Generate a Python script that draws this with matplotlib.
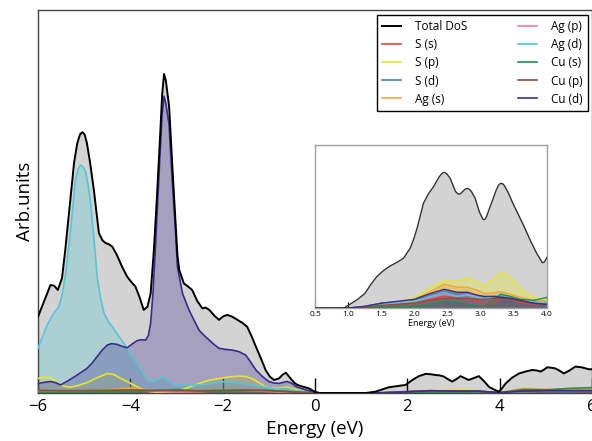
import matplotlib
matplotlib.use("Agg")
import matplotlib.pyplot as plt
from matplotlib.patches import ConnectionPatch

plt.rcParams['font.family'] = ['Open Sans', 'DejaVu Sans']

# ---------------- main panel data (energy in eV, DoS in arb. units 0-100) ----------------
total_E = [-6.0, -5.85, -5.73, -5.65, -5.57, -5.48, -5.41, -5.30, -5.22, -5.15, -5.09, -5.04, -4.99,
           -4.94, -4.87, -4.79, -4.68, -4.60, -4.54, -4.46, -4.39, -4.29, -4.18, -4.07, -3.98, -3.89,
           -3.80, -3.71, -3.63, -3.56, -3.49, -3.42, -3.36, -3.31, -3.27, -3.23, -3.16, -3.08, -2.98,
           -2.94, -2.84, -2.75, -2.66, -2.55, -2.44, -2.37, -2.29, -2.18, -2.08, -1.99, -1.90, -1.79,
           -1.68, -1.57, -1.47, -1.38, -1.28, -1.17, -1.07, -0.98, -0.89, -0.78, -0.70, -0.63, -0.53,
           -0.45, -0.38, -0.25, -0.13, 0.0, 0.1, 0.5, 1.1, 1.31, 1.6, 1.96, 2.11, 2.25, 2.40, 2.5,
           2.61, 2.70, 2.79, 2.88, 2.97, 3.06, 3.15, 3.24, 3.33, 3.44, 3.55, 3.66, 3.77, 3.88, 3.98,
           4.05, 4.13, 4.27, 4.42, 4.56, 4.70, 4.80, 4.89, 4.96, 5.03, 5.12, 5.21, 5.30, 5.39, 5.50,
           5.64, 5.78, 5.93, 6.0]
total_v = [19.9, 24.5, 28.2, 28.0, 26.9, 30.0, 37.3, 50.4, 60.0, 65.2, 67.5, 68.1, 67.5,
           65.2, 60.0, 53.0, 41.7, 39.8, 39.2, 38.8, 38.2, 36.0, 33.0, 30.4, 29.0, 27.8,
           25.0, 21.7, 22.5, 26.0, 37.3, 52.0, 66.0, 78.0, 83.3, 81.5, 74.8, 57.0, 36.0,
           32.1, 28.6, 27.8, 26.9, 24.0, 22.1, 22.3, 21.7, 20.2, 19.1, 20.0, 20.4, 19.9,
           19.1, 18.3, 17.3, 15.0, 12.1, 9.0, 6.0, 4.3, 3.4, 3.8, 4.8, 5.3, 3.8,
           2.7, 2.1, 1.6, 1.2, 0.3, 0.0, 0.0, 0.0, 0.35, 1.5, 2.1, 3.4, 4.4, 5.0, 4.9,
           4.7, 4.6, 4.3, 3.6, 3.0, 3.6, 4.4, 3.9, 3.4, 3.9, 4.4, 3.1, 1.6, 0.9, 0.35,
           1.2, 2.5, 4.0, 5.1, 5.6, 6.0, 5.9, 5.6, 6.1, 6.7, 6.6, 6.4, 5.8, 5.1, 5.8,
           6.9, 6.7, 6.2, 6.2]

agd_E = [-6.0, -5.80, -5.66, -5.55, -5.48, -5.41, -5.30, -5.19, -5.13, -5.08, -5.02, -4.97, -4.91,
         -4.86, -4.76, -4.72, -4.64, -4.57, -4.48, -4.39, -4.26, -4.14, -4.0, -3.85, -3.74, -3.64,
         -3.52, -3.40, -3.30, -3.20, -3.09, -2.94, -2.75, -2.51, -2.2, -1.93, -1.65, -1.36, -1.1,
         -0.85, -0.63, -0.4, -0.2, 0.0, 0.1, 1.2, 2.0, 2.5, 3.0, 3.5, 4.0, 4.5, 5.0, 5.5, 6.0]
agd_v = [11.7, 17.8, 20.8, 22.5, 25.5, 30.4, 41.7, 55.6, 58.5, 59.5, 59.0, 57.8, 54.0,
         49.5, 36.5, 30.4, 24.5, 20.8, 18.7, 17.3, 15.0, 13.0, 10.3, 7.8, 5.5, 3.4,
         3.0, 3.6, 4.2, 3.4, 2.3, 2.1, 2.0, 2.1, 2.6, 3.0, 2.6, 2.1, 1.6,
         1.0, 1.2, 0.6, 0.3, 0.1, 0.0, 0.0, 0.3, 0.5, 0.4, 0.5, 0.1, 0.5, 0.6, 0.5, 0.6]

cud_E = [-6.0, -5.85, -5.73, -5.62, -5.51, -5.35, -5.15, -4.94, -4.83, -4.72, -4.61, -4.50, -4.40,
         -4.29, -4.18, -4.07, -3.96, -3.85, -3.76, -3.67, -3.61, -3.56, -3.51, -3.46, -3.40, -3.35,
         -3.31, -3.27, -3.23, -3.16, -3.09, -3.02, -2.98, -2.87, -2.73, -2.62, -2.51, -2.40, -2.29,
         -2.18, -2.08, -1.95, -1.79, -1.65, -1.50, -1.40, -1.28, -1.14, -1.0, -0.89, -0.78, -0.68,
         -0.6, -0.5, -0.4, -0.2, 0.0, 0.1, 1.2, 2.0, 2.5, 3.0, 3.5, 4.0, 4.5, 5.0, 5.5, 6.0]
cud_v = [2.5, 2.8, 3.0, 2.7, 2.1, 3.2, 4.7, 6.4, 7.8, 9.5, 11.2, 12.5, 12.9,
         12.7, 12.2, 11.8, 12.8, 13.7, 13.9, 13.8, 15.0, 18.2, 26.0, 37.3, 52.0, 64.0,
         73.0, 77.5, 75.5, 70.0, 55.0, 42.0, 33.0, 26.0, 21.7, 19.0, 16.4, 15.0, 13.8,
         12.6, 11.7, 11.4, 11.2, 10.8, 9.9, 8.2, 6.0, 4.3, 3.0, 2.6, 2.5, 2.8,
         3.0, 2.5, 1.6, 0.8, 0.2, 0.0, 0.0, 0.3, 0.6, 0.5, 0.5, 0.1, 0.5, 0.6, 0.6, 0.6]

sp_E = [-6.0, -5.85, -5.73, -5.62, -5.51, -5.40, -5.30, -5.12, -4.94, -4.72, -4.50, -4.35, -4.21,
        -4.07, -3.93, -3.78, -3.64, -3.45, -3.2, -2.95, -2.75, -2.51, -2.30, -2.08, -1.85, -1.65,
        -1.50, -1.37, -1.20, -1.07, -0.95, -0.8, -0.7, -0.6, -0.5, -0.4, -0.2, 0.0, 0.1, 1.2,
        2.0, 2.4, 2.8, 3.3, 3.7, 4.0, 4.3, 5.0, 6.0]
sp_v = [3.8, 4.1, 4.0, 3.0, 2.1, 1.7, 1.5, 2.0, 2.7, 4.0, 5.1, 4.8, 3.8,
        3.0, 2.1, 1.2, 0.5, 0.2, 0.2, 0.6, 1.4, 2.5, 3.3, 3.8, 4.2, 4.4,
        4.3, 3.8, 2.6, 1.6, 1.3, 1.2, 1.4, 1.6, 1.2, 0.9, 0.4, 0.1, 0.0, 0.0,
        0.3, 0.6, 0.7, 0.9, 0.4, 0.1, 0.4, 0.5, 0.5]

minor_E = [-6, -5.5, -5, -4.5, -4, -3.5, -3, -2.5, -2, -1.5, -1, -0.5, 0, 0.5, 1, 1.5, 2, 2.5,
           3, 3.5, 4, 4.5, 5, 5.5, 6]
ss_v = [0.6, 0.5, 0.4, 0.5, 0.6, 0.3, 0.3, 0.4, 0.5, 0.5, 0.4, 0.3, 0, 0, 0, 0.05, 0.2, 0.5,
        0.3, 0.4, 0.1, 0.5, 0.6, 0.5, 0.6]
sd_v = [0.5, 0.5, 0.6, 0.7, 0.8, 0.5, 0.4, 0.5, 0.6, 0.6, 0.5, 0.3, 0, 0, 0, 0.05, 0.3, 0.5,
        0.4, 0.4, 0.1, 0.4, 0.5, 0.4, 0.5]
ags_v = [0.5, 0.4, 0.5, 0.8, 1.3, 0.6, 0.3, 0.4, 0.6, 0.8, 0.5, 0.3, 0, 0, 0, 0.05, 0.3, 0.6,
         0.5, 0.5, 0.1, 1.2, 1.0, 0.8, 0.9]
agp_v = [0.4, 0.4, 0.5, 0.6, 0.7, 0.4, 0.3, 0.4, 0.6, 0.6, 0.4, 0.2, 0, 0, 0, 0.05, 0.3, 0.5,
         0.5, 0.4, 0.1, 0.6, 0.7, 0.6, 0.7]
cus_v = [0.2, 0.2, 0.2, 0.3, 0.4, 0.6, 0.9, 0.5, 0.4, 0.6, 0.7, 0.3, 0, 0, 0, 0, 0.1, 0.2,
         0.1, 0.3, 0.1, 0.9, 0.8, 1.2, 1.4]
cup_v = [0.7, 0.6, 0.6, 0.7, 0.8, 0.7, 0.6, 0.6, 0.7, 0.8, 0.6, 0.3, 0, 0, 0, 0.05, 0.4, 0.6,
         0.5, 0.5, 0.1, 0.6, 0.7, 0.6, 0.6]

# ---------------- inset data (0.5-4.0 eV, arb. units 0-100) ----------------
ins_total_E = [0.5, 0.9, 0.95, 1.0, 1.06, 1.13, 1.19, 1.255, 1.34, 1.43, 1.53, 1.633, 1.73, 1.834,
               1.935, 1.99, 2.04, 2.09, 2.136, 2.21, 2.287, 2.33, 2.37, 2.41, 2.438, 2.465, 2.49,
               2.539, 2.58, 2.62, 2.665, 2.70, 2.74, 2.77, 2.80, 2.83, 2.86, 2.917, 2.98, 3.033,
               3.06, 3.09, 3.13, 3.169, 3.23, 3.265, 3.295, 3.33, 3.36, 3.42, 3.48, 3.547, 3.65,
               3.748, 3.84, 3.93, 3.96, 4.0]
ins_total_v = [0, 0, 0.4, 1.8, 3.3, 5.1, 7.0, 9.2, 14.5, 19.3, 23.0, 25.9, 28.0, 30.6,
               36.7, 42.5, 49.0, 57.0, 64.3, 70.0, 74.4, 77.5, 80.3, 82.4, 83.2, 83.0, 82.3,
               79.6, 75.5, 71.5, 69.8, 70.3, 72.0, 73.1, 73.4, 72.8, 71.5, 67.3, 59.0, 54.5,
               54.3, 56.3, 61.0, 65.2, 72.0, 75.2, 76.5, 76.3, 75.0, 70.4, 64.8, 59.1, 50.5,
               41.6, 34.0, 27.9, 28.4, 31.2]

ins_E = [0.5, 1.0, 1.25, 1.5, 1.75, 2.0, 2.25, 2.45, 2.65, 2.8, 2.95, 3.05, 3.2, 3.3, 3.45, 3.6, 3.8, 4.0]
ins_sp = [0, 0.2, 0.9, 2.4, 3.7, 6.7, 12.9, 17.1, 16.5, 18.7, 15.9, 13.5, 18.4, 22.3, 19.0, 12.2, 6.7, 4.9]
ins_ags = [0, 0.2, 0.9, 2.4, 3.7, 5.5, 10.4, 14.7, 12.9, 12.9, 11.0, 9.2, 9.5, 10.1, 8.6, 6.7, 4.9, 4.3]
ins_cud = [0, 0.2, 1.2, 3.1, 4.3, 5.5, 9.2, 11.6, 9.8, 9.8, 8.0, 7.3, 7.3, 6.7, 6.1, 4.9, 3.1, 2.4]
ins_sd = [0, 0.2, 1.2, 3.1, 4.0, 4.9, 8.0, 10.4, 8.6, 9.2, 7.3, 6.7, 7.3, 7.3, 6.1, 4.9, 3.7, 3.1]
ins_agd = [0, 0.2, 0.9, 2.4, 3.4, 4.3, 7.3, 9.8, 7.3, 8.0, 6.7, 6.1, 7.3, 8.6, 6.7, 5.5, 3.7, 3.7]
ins_agp = [0, 0.2, 0.9, 2.4, 3.4, 4.3, 6.7, 8.6, 7.3, 8.6, 7.3, 5.5, 6.1, 6.7, 5.5, 4.9, 3.7, 3.1]
ins_ss = [0, 0.1, 0.6, 1.8, 2.4, 3.1, 5.5, 7.3, 6.1, 5.5, 4.3, 2.4, 3.7, 6.1, 5.5, 3.7, 2.4, 2.4]
ins_cup = [0, 0.1, 0.6, 1.8, 2.4, 3.1, 4.9, 6.1, 6.1, 6.1, 5.5, 5.5, 6.1, 6.1, 5.5, 4.3, 3.1, 2.4]
ins_cus = [0, 0, 0.2, 0.6, 0.9, 1.2, 2.4, 4.3, 3.7, 2.4, 1.2, 1.2, 4.9, 8.6, 7.3, 5.5, 4.9, 6.7]

labels = ["S (s)", "S (p)", "S (d)", "Ag (s)", "Ag (p)", "Ag (d)", "Cu (s)", "Cu (p)", "Cu (d)"]
colors = ["#e8413c", "#e6e62e", "#4a7fc0", "#f7a432", "#ef78b4", "#55c6d6", "#23904a", "#8a5232", "#3b2c8c"]

main_series = [(minor_E, ss_v), (sp_E, sp_v), (minor_E, sd_v), (minor_E, ags_v), (minor_E, agp_v),
               (agd_E, agd_v), (minor_E, cus_v), (minor_E, cup_v), (cud_E, cud_v)]
ins_series = [ins_ss, ins_sp, ins_sd, ins_ags, ins_agp, ins_agd, ins_cus, ins_cup, ins_cud]

fig = plt.figure(figsize=(5.92, 4.41), dpi=100)
ax = fig.add_axes([38/592, 48/441, (592-38)/592, (393-10)/441])

ax.fill_between(total_E, total_v, 0, color="#d3d3d3", lw=0, zorder=1)
handles = []
h, = ax.plot(total_E, total_v, color="black", lw=1.4, zorder=5, solid_joinstyle="round")
handles.append(h)
for (xs, ys), lab, c in zip(main_series, labels, colors):
    ax.fill_between(xs, ys, 0, color=c, alpha=0.3, lw=0, zorder=2)
for (xs, ys), lab, c in zip(main_series, labels, colors):
    h, = ax.plot(xs, ys, color=c, lw=1.2, zorder=3, solid_joinstyle="round", label=lab)
    handles.append(h)

ax.set_xlim(-6, 6)
ax.set_ylim(0, 100)
ax.set_xticks([-6, -4, -2, 0, 2, 4, 6])
ax.set_yticks([])
ax.tick_params(axis="x", direction="in", length=11, width=1, labelsize=12, pad=4)
for s in ["left", "top", "bottom", "right"]:
    ax.spines[s].set_color("#444444")
    ax.spines[s].set_linewidth(1.0)
ax.set_xlabel("Energy (eV)", fontsize=13.5, labelpad=4)
ax.set_ylabel("Arb.units", fontsize=13.5, labelpad=3)

leg = ax.legend(handles, ["Total DoS"] + labels, ncol=2, loc="upper right",
                bbox_to_anchor=(0.9928, 0.987), borderaxespad=0, fontsize=8.5, frameon=True,
                fancybox=False, edgecolor="black", framealpha=1, handlelength=1.65,
                handletextpad=1.15, labelspacing=0.43, columnspacing=4.3, borderpad=0.45)
leg.get_frame().set_linewidth(1.0)

# ---------------- inset ----------------
ins = fig.add_axes([315/592, (441-308.3)/441, (547-315)/592, (308.3-145)/441])
ins.fill_between(ins_total_E, ins_total_v, 0, color="#d3d3d3", lw=0, zorder=1)
for ys, c in zip(ins_series, colors):
    ins.fill_between(ins_E, ys, 0, color=c, alpha=0.35, lw=0, zorder=2)
for ys, c in zip(ins_series, colors):
    ins.plot(ins_E, ys, color=c, lw=1.0, zorder=3, solid_joinstyle="round")
ins.plot(ins_total_E, ins_total_v, color="#333333", lw=1.0, zorder=5, solid_joinstyle="round")
ins.set_xlim(0.5, 4.0)
ins.set_ylim(0, 100)
ins.set_xticks([0.5, 1.0, 1.5, 2.0, 2.5, 3.0, 3.5, 4.0])
ins.set_xticklabels(["0.5", "1.0", "1.5", "2.0", "2.5", "3.0", "3.5", "4.0"])
ins.set_yticks([])
ins.tick_params(axis="x", direction="in", length=4, width=0.8, labelsize=6, pad=2)
for s in ins.spines.values():
    s.set_color("#a0a0a0")
    s.set_linewidth(1.0)
ins.set_xlabel("Energy (eV)", fontsize=6.5, labelpad=1)

for xa, xb in [(0.6, 0.0), (4.0, 1.0)]:
    con = ConnectionPatch(xyA=(xa, 0), coordsA="data", axesA=ax,
                          xyB=(xb, 0), coordsB="axes fraction", axesB=ins,
                          color="#9a9a9a", lw=0.7, zorder=0)
    fig.add_artist(con)

fig.savefig("out.png", dpi=100)
